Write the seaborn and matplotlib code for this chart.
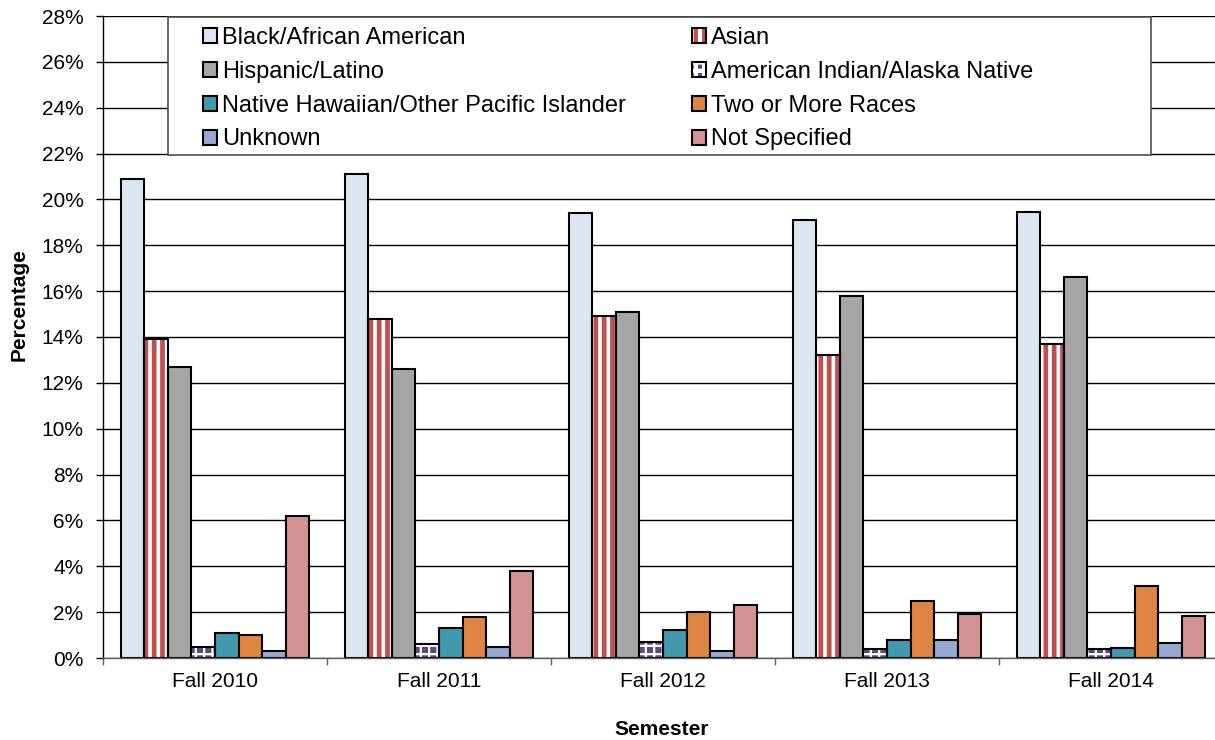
import numpy as np
import pandas as pd
import seaborn as sns
import matplotlib.pyplot as plt
from matplotlib.patches import Rectangle, Patch
from matplotlib.legend_handler import HandlerTuple
from matplotlib.ticker import FixedLocator, FuncFormatter

# data (percent)
semesters = ["Fall 2010", "Fall 2011", "Fall 2012", "Fall 2013", "Fall 2014"]
groups = ["Black/African American", "Asian", "Hispanic/Latino",
          "American Indian/Alaska Native", "Native Hawaiian/Other Pacific Islander",
          "Two or More Races", "Unknown", "Not Specified"]
black = [20.9, 21.1, 19.4, 19.1, 19.45]
asian = [13.9, 14.8, 14.9, 13.2, 13.7]
hispanic = [12.7, 12.6, 15.1, 15.8, 16.6]
am_indian = [0.5, 0.6, 0.7, 0.4, 0.4]
hawaiian = [1.1, 1.3, 1.2, 0.8, 0.45]
two_more = [1.0, 1.8, 2.0, 2.5, 3.15]
unknown = [0.3, 0.5, 0.3, 0.8, 0.65]
not_spec = [6.2, 3.8, 2.3, 1.9, 1.85]

colors = ["#DCE6F2", "#C0504D", "#A6A6A6", "#604A7B",
          "#4198AF", "#DE8540", "#95A9D3", "#D49392"]

series = [black, asian, hispanic, am_indian, hawaiian, two_more, unknown, not_spec]
rows = []
for g, vals in zip(groups, series):
    for s, v in zip(semesters, vals):
        rows.append({"Semester": s, "Group": g, "Percentage": v})
df = pd.DataFrame(rows)

sns.set_style("white")
plt.rcParams["font.family"] = ["Liberation Sans", "DejaVu Sans"]
plt.rcParams["hatch.linewidth"] = 3.0
for key in ["text.color", "axes.labelcolor", "xtick.labelcolor", "ytick.labelcolor"]:
    plt.rcParams[key] = "black"

fig = plt.figure(figsize=(12.15, 7.40), dpi=100)
ax = fig.add_axes([103 / 1215, 82 / 740, 1120 / 1215, 642 / 740])

sns.barplot(data=df, x="Semester", y="Percentage", hue="Group",
            order=semesters, hue_order=groups, palette=colors,
            width=0.84, gap=0, saturation=1, errorbar=None,
            edgecolor="black", linewidth=1.5, legend=False, ax=ax)

# patterned series: Asian stripes, American Indian checks
patterns = {1: ("white", "#C0504D", "||", 3.4), 3: ("#604A7B", "white", "++", 1.6)}


def set_pattern(p, face, hcol, hatch, hlw):
    p.set_facecolor(face)
    p.set_edgecolor(hcol)
    p.set_hatch(hatch)
    p.set_linewidth(0)
    if hasattr(p, "set_hatch_linewidth"):
        p.set_hatch_linewidth(hlw)


for idx, (face, hcol, hatch, hlw) in patterns.items():
    for p in ax.containers[idx]:
        set_pattern(p, face, hcol, hatch, hlw)
        ax.add_patch(Rectangle(p.get_xy(), p.get_width(), p.get_height(),
                               fill=False, edgecolor="black", linewidth=1.5, zorder=p.get_zorder()))

ax.set_xlim(-0.5, 4.5)
ax.set_ylim(0, 28)
ax.yaxis.set_major_locator(FixedLocator(np.arange(0, 29, 2)))
ax.yaxis.set_major_formatter(FuncFormatter(lambda v, _: f"{v:.0f}%"))
ax.xaxis.set_minor_locator(FixedLocator(np.arange(-0.5, 5, 1)))
ax.grid(axis="y", color="black", linewidth=1)
ax.set_axisbelow(True)

ax.tick_params(axis="y", which="major", length=5, width=1, direction="out",
               color="black", labelcolor="black", labelsize=15, pad=9, left=True)
ax.tick_params(axis="x", which="major", length=0, labelsize=15, pad=10, labelcolor="black")
ax.tick_params(axis="x", which="minor", length=5, width=1, color="#606060",
               direction="out", bottom=True)

for side in ["top", "right"]:
    ax.spines[side].set_visible(False)
ax.spines["left"].set_color("black")
ax.spines["left"].set_linewidth(1)
ax.spines["bottom"].set_color("#606060")
ax.spines["bottom"].set_linewidth(1)

ax.set_xlabel("Semester", fontsize=15, fontweight="bold", color="black")
ax.set_ylabel("Percentage", fontsize=15, fontweight="bold", color="black")
ax.xaxis.set_label_coords(0.499, -0.096)
ax.yaxis.set_label_coords(-0.066, 0.551)

# legend box and entries
ax.add_patch(Rectangle(((168 - 103) / 1120, (658 - 155) / 642), (1151 - 168) / 1120,
                       (155 - 17) / 642, transform=ax.transAxes, facecolor="white",
                       edgecolor="#505050", linewidth=1.2, zorder=4))
handles = []
for i, c in enumerate(colors):
    if i in patterns:
        fill = Patch()
        set_pattern(fill, *patterns[i])
    else:
        fill = Patch(facecolor=c, linewidth=0)
    handles.append((fill, Patch(fill=False, edgecolor="black", linewidth=1.5)))
order = [0, 2, 4, 6, 1, 3, 5, 7]
leg = ax.legend([handles[i] for i in order], [groups[i] for i in order],
                handler_map={tuple: HandlerTuple(ndivide=1)},
                ncol=2, loc="upper left", frameon=False, fontsize=17,
                bbox_to_anchor=((203 - 103) / 1120, 1 - (27 - 16) / 642),
                borderpad=0, borderaxespad=0, handlelength=0.6, handleheight=0.6,
                handletextpad=0.2, labelspacing=0.5, columnspacing=2.8,
                labelcolor="black")
leg.set_zorder(5)

fig.savefig("out.png", dpi=100)
